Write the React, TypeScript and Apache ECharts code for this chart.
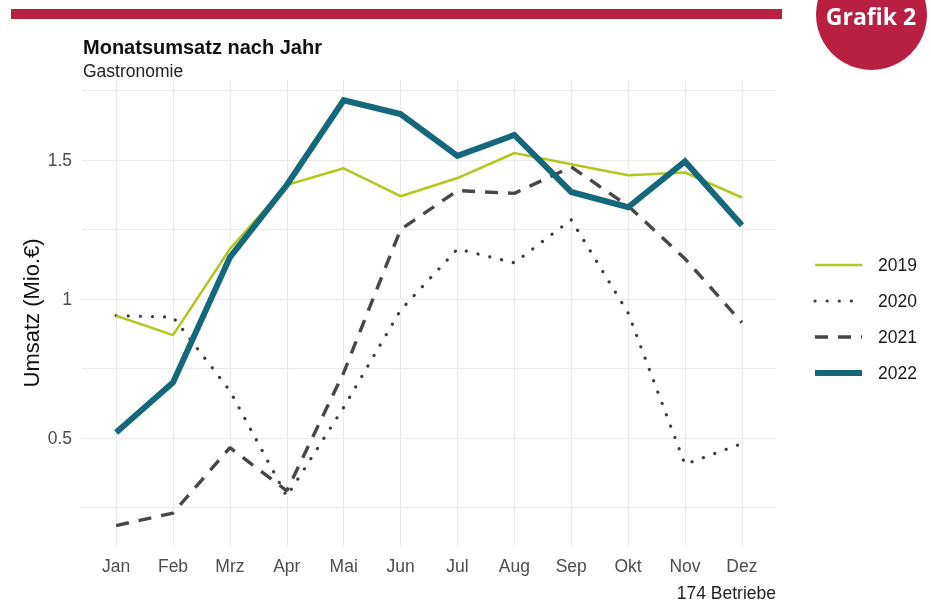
import React, { useEffect, useRef } from "react";
import * as echarts from "echarts";

const months = ["Jan", "Feb", "Mrz", "Apr", "Mai", "Jun", "Jul", "Aug", "Sep", "Okt", "Nov", "Dez"];
const years = ["2019", "2020", "2021", "2022"];
const u2019 = [0.94, 0.87, 1.18, 1.41, 1.47, 1.37, 1.435, 1.525, 1.485, 1.445, 1.455, 1.365];
const u2020 = [0.94, 0.935, 0.67, 0.29, 0.61, 0.96, 1.18, 1.13, 1.285, 0.95, 0.405, 0.48];
const u2021 = [0.185, 0.23, 0.465, 0.31, 0.735, 1.25, 1.39, 1.38, 1.475, 1.335, 1.145, 0.915];
const u2022 = [0.52, 0.7, 1.15, 1.41, 1.715, 1.665, 1.515, 1.59, 1.385, 1.33, 1.495, 1.265];
const yGridValues = [0.25, 0.5, 0.75, 1, 1.25, 1.5, 1.75];
const yLabelValues = [0.5, 1, 1.5];

const FONT = "'Liberation Sans', Arial, sans-serif";
const RED = "#b81f41";

export default function App() {
  const ref = useRef<HTMLDivElement>(null);
  useEffect(() => {
    if (!ref.current) return;
    const chart = echarts.init(ref.current, null, { renderer: "svg" });
    const xIdx = months.map((_, i) => i);
    const toPts = (arr: number[]) => arr.map((v, i) => [i, v]);
    chart.setOption({
      animation: false,
      textStyle: { fontFamily: FONT },
      title: [
        {
          text: "Monatsumsatz nach Jahr",
          subtext: "Gastronomie",
          left: 83,
          top: 36,
          itemGap: 3,
          padding: 0,
          textStyle: { fontFamily: FONT, fontSize: 20, fontWeight: "bold", color: "#111", lineHeight: 22 },
          subtextStyle: { fontFamily: FONT, fontSize: 17.5, color: "#222", lineHeight: 20 },
        },
        {
          text: "174 Betriebe",
          right: 155,
          top: 583,
          padding: 0,
          textStyle: { fontFamily: FONT, fontSize: 17.5, fontWeight: "normal", color: "#222", lineHeight: 20 },
        },
      ],
      grid: { left: 82, right: 155, top: 79.4, bottom: 61.6, containLabel: false },
      xAxis: {
        type: "value",
        min: -0.6,
        max: 11.6,
        axisLine: { show: false },
        axisTick: { show: false, customValues: xIdx },
        axisLabel: {
          customValues: xIdx,
          formatter: (v: number) => months[Math.round(v)] ?? "",
          fontSize: 17.5,
          color: "#4d4d4d",
          margin: 11,
          fontFamily: FONT,
        },
        splitLine: { show: true, lineStyle: { color: "#ebebeb", width: 1.2 } },
      },
      yAxis: {
        type: "value",
        min: 0.11,
        max: 1.79,
        name: "Umsatz (Mio.€)",
        nameLocation: "middle",
        nameGap: 40,
        nameMoveOverlap: false,
        nameRotate: 90,
        nameTextStyle: { fontSize: 22, color: "#111", fontFamily: FONT },
        axisLine: { show: false },
        axisTick: { show: false, customValues: yGridValues },
        axisLabel: {
          customValues: yLabelValues,
          formatter: (v: number) => String(v),
          fontSize: 17.5,
          color: "#4d4d4d",
          margin: 10,
          fontFamily: FONT,
        },
        splitLine: { show: true, lineStyle: { color: "#ebebeb", width: 1.2 } },
      },
      legend: {
        orient: "vertical",
        left: 812,
        top: 256,
        itemWidth: 47,
        itemHeight: 16,
        itemGap: 18,
        padding: 0,
        data: years,
        itemStyle: { opacity: 0 },
        lineStyle: { width: "inherit" },
        textStyle: { fontSize: 17.5, color: "#1a1a1a", fontFamily: FONT, padding: [0, 0, 0, 11] },
      },
      series: [
        {
          name: years[0],
          type: "line",
          data: toPts(u2019),
          symbol: "none",
          lineStyle: { color: "#b3c71f", width: 2.6 },
          itemStyle: { color: "#b3c71f" },
          z: 3,
        },
        {
          name: years[1],
          type: "line",
          data: toPts(u2020),
          symbol: "none",
          lineStyle: { color: "#3d3d3d", width: 3.2, type: [0.1, 12], cap: "round" },
          itemStyle: { color: "#3d3d3d" },
          z: 2,
        },
        {
          name: years[2],
          type: "line",
          data: toPts(u2021),
          symbol: "none",
          lineStyle: { color: "#474747", width: 3.4, type: [13, 10] },
          itemStyle: { color: "#474747" },
          z: 2,
        },
        {
          name: years[3],
          type: "line",
          data: toPts(u2022),
          symbol: "none",
          lineStyle: { color: "#15687c", width: 6, join: "miter" },
          itemStyle: { color: "#15687c" },
          z: 4,
        },
      ],
      graphic: [
        { type: "rect", shape: { x: 11, y: 9, width: 771, height: 10 }, style: { fill: RED }, silent: true },
        { type: "circle", shape: { cx: 871.5, cy: 14.5, r: 55.5 }, style: { fill: RED }, silent: true },
        {
          type: "text",
          x: 871,
          y: 16,
          style: {
            text: "Grafik 2",
            fill: "#ffffff",
            font: "bold 23px 'Open Sans', sans-serif",
            align: "center",
            verticalAlign: "middle",
          },
          silent: true,
        },
      ],
    });
    return () => chart.dispose();
  }, []);
  return <div ref={ref} style={{ position: "fixed", left: 0, top: 0, width: 931, height: 608 }} />;
}
